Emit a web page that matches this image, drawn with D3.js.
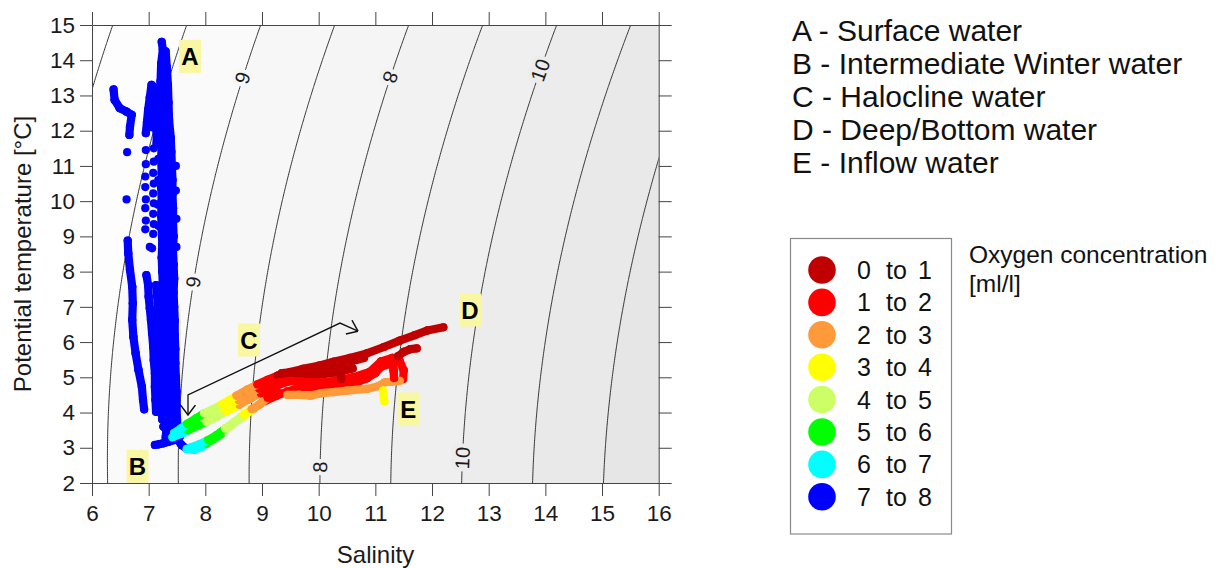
<!DOCTYPE html>
<html><head><meta charset="utf-8">
<script src="https://cdn.jsdelivr.net/npm/d3@7"></script>
<style>
body{margin:0;background:#fff;}
svg text{font-family:"Liberation Sans",Arial,Helvetica,sans-serif;}
</style></head><body>
<svg id="c" width="1216" height="568"></svg>
<script>
// ---------- ticks / categories ----------
const salinityTicks = [6,7,8,9,10,11,12,13,14,15,16];
const tempTicks = [2,3,4,5,6,7,8,9,10,11,12,13,14,15];
const sigmaLevels = [4,5,6,7,8,9,10,11,12,13];
const bandGrays = ["#ffffff","#fdfdfd","#fafafa","#f7f7f7","#f5f5f5","#f2f2f2","#efefef","#ececec","#e9e9e9","#e6e6e6","#e3e3e3"];
const contourLabelSigma = [6,8,10,6,8,10];
const contourLabelT = [13.5,13.52,13.72,7.7,2.45,2.71];
const contourLabelFlip = [1,1,0,1,0,0];
const oxygenFrom = [0,1,2,3,4,5,6,7];
const oxygenTo = [1,2,3,4,5,6,7,8];
const oxygenColors = ["#c00000","#ff0000","#ff9a3a","#ffff00","#ccff66","#00ff00","#00ffff","#0000ff"];
const waterMasses = ["A - Surface water","B - Intermediate Winter water","C - Halocline water","D - Deep/Bottom water","E - Inflow water"];
const massLetters = ["A","B","C","D","E"];
const massS = [7.729,6.803,8.770,12.670,11.581];
const massT = [14.109,2.474,6.059,6.910,4.100];
const arrowPath = [[7.694,3.93],[7.694,4.50],[10.376,6.54],[10.694,6.31]];

// ---------- data: [salinity, temperature, oxygen] ----------
const blueProfile1 = [[6.38,13.17],[6.40,12.87],[6.49,12.64],[6.61,12.54],[6.70,12.45],[6.67,12.11],[6.66,11.88]];
const blueProfile1Deep = [[6.63,8.88],[6.64,8.52],[6.67,8.05],[6.71,7.57],[6.72,7.10],[6.71,6.63],[6.73,6.15],[6.77,5.68],[6.82,5.21],[6.88,4.73],[6.90,4.36],[6.92,4.09]];
const blueWedgeL = [[7.05,13.3],[7.02,12.95],[6.99,12.59],[6.97,12.25],[6.95,11.93]];
const blueWedgeR = [[7.08,13.25],[7.11,12.85],[7.13,12.4],[7.14,12.0],[7.14,11.64]];
const blueWedgeM = [[7.06,13.1],[7.06,12.6],[7.06,12.1]];
const blueColumnA = [[7.23,14.52],[7.25,14.3],[7.22,13.9],[7.21,13.4],[7.21,12.9],[7.22,12.4],[7.22,12.0],[7.23,11.6],[7.22,11.2],[7.23,10.8],[7.22,10.4],[7.23,10.0],[7.22,9.6],[7.23,9.2],[7.24,8.8],[7.23,8.4],[7.24,8.0],[7.25,7.6],[7.24,7.2],[7.26,6.8],[7.26,6.4],[7.27,6.0],[7.28,5.6],[7.28,5.2],[7.29,4.8],[7.3,4.4],[7.3,4.0],[7.32,3.6],[7.3,3.3]];
const blueColumnC = [[7.27,14.1],[7.28,13.6],[7.29,13.0],[7.3,12.5],[7.31,12.0],[7.31,11.5],[7.32,11.0],[7.32,10.5],[7.33,10.0],[7.32,9.5],[7.33,9.0],[7.34,8.5],[7.34,8.0],[7.35,7.5],[7.35,7.0],[7.36,6.5],[7.36,6.0],[7.37,5.5],[7.38,5.0],[7.38,4.5],[7.4,4.0],[7.41,3.6]];
const blueColumnB = [[7.3,14.25],[7.32,13.8],[7.34,13.3],[7.35,12.8],[7.36,12.3],[7.39,11.8],[7.4,11.4],[7.41,11.0],[7.42,10.6],[7.42,10.2],[7.43,9.8],[7.43,9.4],[7.44,9.0],[7.43,8.6],[7.44,8.2],[7.45,7.8],[7.44,7.4],[7.45,7.0],[7.46,6.6],[7.46,6.2],[7.47,5.8],[7.47,5.4],[7.48,5.0],[7.49,4.6],[7.49,4.2],[7.5,3.8],[7.51,3.5],[7.47,3.3]];
const blueChain3 = [[6.96,7.9],[6.99,7.62],[7.0,7.29],[7.02,6.96],[7.04,6.63],[7.06,6.25],[7.08,5.87],[7.09,5.49],[7.11,5.11],[7.11,4.73],[7.12,4.36],[7.13,4.02]];
const blueChain4 = [[7.13,7.62],[7.16,7.1],[7.17,6.6],[7.16,6.2],[7.18,5.7],[7.19,5.2],[7.2,4.7],[7.22,4.2],[7.24,3.8]];
const blueBottom = [[7.11,3.08],[7.18,3.1],[7.26,3.13],[7.35,3.17],[7.45,3.22],[7.52,3.3]];
const blueBlob = [[7.28,4.0],[7.4,3.7],[7.5,3.45],[7.55,3.32]];
const blueBlob2 = [[7.26,3.6],[7.35,3.45],[7.45,3.38]];
const blueDots = [[6.62,11.39],[6.61,10.05],
  [6.95,11.45],[6.95,11.05],[6.94,10.7],[6.94,10.4],[6.95,10.05],[6.94,9.8],[6.95,9.45],[6.94,9.2],[7.02,8.7],
  [7.09,11.5],[7.09,11.12],[7.08,10.8],[7.09,10.5],[7.08,10.22],[7.09,9.94],[7.08,9.64],[7.09,9.35],[7.08,9.07],[7.06,8.66],
  [7.17,11.2],[7.17,10.6],[7.16,9.9],[7.17,9.3],[7.48,11.0],[7.48,10.3],[7.49,9.5],[7.49,8.7],[7.15,5.6],[7.16,4.9]];
const haloUpper = [[7.45,3.42,6.5],[7.57,3.55,6.5],[7.68,3.68,5.5],[7.84,3.84,5.5],[7.98,3.98,4.5],[8.14,4.1,4.5],[8.3,4.24,3.5],[8.44,4.37,3.5],[8.55,4.48,2.5],[8.74,4.65,2.5],[8.92,4.8,1.5],[9.1,4.93,1.5],[9.28,5.05,0.5],[9.5,5.15,0.5],[9.72,5.24,0.5],[10.0,5.33,0.5],[10.26,5.44,0.5],[10.55,5.55,0.5],[10.85,5.68,0.5],[11.15,5.86,0.5],[11.43,6.04,0.5],[11.7,6.2,0.5],[11.92,6.33,0.5],[12.2,6.42,0.5]];
const haloUpper2 = [[7.5,3.38,6.5],[7.64,3.55,5.5],[7.8,3.72,5.5],[7.95,3.86,4.5],[8.12,3.98,4.5],[8.3,4.12,3.5],[8.46,4.26,3.5],[8.58,4.36,2.5],[8.78,4.55,2.5],[8.95,4.68,1.5],[9.15,4.85,1.5],[9.35,4.98,0.5],[9.6,5.05,0.5],[9.9,5.2,0.5],[10.2,5.3,0.5],[10.5,5.42,0.5],[10.8,5.55,0.5]];
const haloMiddle = [[7.42,3.3,6.5],[7.58,3.4,6.5],[7.7,3.5,5.5],[7.88,3.64,5.5],[8.02,3.74,4.5],[8.2,3.88,4.5],[8.38,4.04,3.5],[8.52,4.15,3.5],[8.6,4.22,2.5],[8.8,4.4,2.5],[8.98,4.55,1.5],[9.2,4.72,1.5],[9.4,4.85,1.5],[9.6,4.92,1.5],[9.8,5.0,0.5],[10.1,5.1,0.5],[10.38,5.16,0.5],[10.6,5.25,0.5]];
const haloLower = [[7.5,3.25,7.5],[7.58,3.08,7.5],[7.67,2.97,6.5],[7.8,2.94,6.5],[7.93,3.02,6.5],[8.02,3.12,5.5],[8.15,3.25,5.5],[8.27,3.38,5.5],[8.33,3.48,4.5],[8.47,3.65,4.5],[8.6,3.82,4.5],[8.66,3.88,3.5],[8.78,4.03,3.5],[8.86,4.12,2.5],[8.98,4.26,2.5],[9.08,4.35,1.5],[9.25,4.47,1.5],[9.45,4.6,1.5],[9.65,4.7,1.5],[9.85,4.72,1.5],[10.05,4.72,1.5],[10.26,4.73,1.5],[10.5,4.8,1.5],[10.7,4.88,1.5],[10.85,4.97,1.5],[11.0,5.12,1.5],[11.1,5.3,1.5],[11.26,5.38,1.5],[11.43,5.47,1.5],[11.5,5.2,1.5],[11.49,4.95,1.5]];
const haloLower2 = [[7.75,3.02,6.5],[7.9,3.1,6.5],[8.05,3.22,5.5],[8.2,3.36,5.5],[8.35,3.55,4.5],[8.52,3.74,4.5],[8.68,3.95,3.5],[8.82,4.1,2.5],[8.95,4.22,2.5],[9.1,4.42,1.5],[9.3,4.55,1.5]];
const deepOrange = [[9.45,4.5,2.5],[9.65,4.5,2.5],[9.85,4.48,2.5],[10.05,4.55,2.5],[10.26,4.58,2.5],[10.5,4.62,2.5],[10.85,4.67,2.5],[11.05,4.75,2.5],[11.17,4.86,2.5],[11.3,4.88,2.5],[11.43,4.9,2.5]];
const deepRed = [[9.3,4.85,1.5],[9.5,4.9,1.5],[9.7,4.88,1.5],[10.0,4.85,1.5],[10.3,4.9,1.5],[10.6,5.0,1.5],[10.9,5.15,1.5],[11.1,5.45,1.5],[11.3,5.55,1.5],[11.32,5.2,1.5],[11.33,4.98,1.5]];
const deepDarkRed = [[9.35,5.12,0.5],[9.55,5.15,0.5],[9.75,5.12,0.5],[10.0,5.1,0.5],[10.2,5.12,0.5],[10.38,5.15,0.5],[10.4,4.95,0.5]];
const deepDarkTail = [[11.4,5.6,0.5],[11.5,5.72,0.5],[11.62,5.8,0.5],[11.73,5.82,0.5]];
const inflowYellow = [[11.14,4.62,3.5],[11.15,4.45,3.5],[11.16,4.32,3.5]];

// ---------- setup ----------
const svg = d3.select("#c");
const x = d3.scaleLinear().domain([6,16]).range([92,658.7]);
const y = d3.scaleLinear().domain([2,15]).range([483,25]);
const o2Color = d3.scaleThreshold().domain([1,2,3,4,5,6,7]).range(oxygenColors);

svg.append("defs").append("clipPath").attr("id","plotclip")
  .append("rect").attr("x",x(6)).attr("y",y(15)).attr("width",x(16)-x(6)).attr("height",y(2)-y(15));
svg.select("defs").append("marker").attr("id","ah").attr("markerUnits","userSpaceOnUse")
  .attr("viewBox","0 0 11 16").attr("refX",10.5).attr("refY",8).attr("markerWidth",11).attr("markerHeight",16)
  .attr("orient","auto-start-reverse")
  .append("path").attr("d","M0.5,0.5 L10.5,8 L0.5,15.5").attr("fill","none").attr("stroke","#111").attr("stroke-width",1.5);

// ---------- density background ----------
function sigmaT(S,T){
  const T2=T*T,T3=T2*T,T4=T3*T,T5=T4*T;
  const rw=999.842594+6.793952e-2*T-9.095290e-3*T2+1.001685e-4*T3-1.120083e-6*T4+6.536332e-9*T5;
  const A=8.24493e-1-4.0899e-3*T+7.6438e-5*T2-8.2467e-7*T3+5.3875e-9*T4;
  const B=-5.72466e-3+1.0227e-4*T-1.6546e-6*T2;
  return rw + A*S + B*Math.pow(S,1.5) + 4.8314e-4*S*S - 1000;
}
const S0=5.5,S1=16.5,T0=1.5,T1=15.5,nx=440,ny=280;
const dS=(S1-S0)/nx, dT=(T1-T0)/ny;
const grid = new Array(nx*ny);
for(let j=0;j<ny;j++) for(let i=0;i<nx;i++) grid[j*nx+i]=sigmaT(S0+(i+0.5)*dS, T0+(j+0.5)*dT);
const conts = d3.contours().size([nx,ny]).thresholds(sigmaLevels)(grid);
const proj = d3.geoTransform({point:function(c,r){this.stream.point(x(S0+c*dS), y(T0+r*dT));}});
const gpath = d3.geoPath(proj);
const bg = svg.append("g").attr("clip-path","url(#plotclip)");
bg.append("rect").attr("x",x(6)).attr("y",y(15)).attr("width",x(16)-x(6)).attr("height",y(2)-y(15)).attr("fill",bandGrays[0]);
conts.forEach((c,k)=>bg.append("path").attr("d",gpath(c)).attr("fill",bandGrays[k+1]));
conts.forEach(c=>bg.append("path").attr("d",gpath(c)).attr("fill","none").attr("stroke","#2a2a2a").attr("stroke-width",0.95));

function salAt(sig,T){ let lo=0,hi=45; for(let k=0;k<60;k++){const m=(lo+hi)/2; if(sigmaT(m,T)<sig) lo=m; else hi=m;} return (lo+hi)/2; }
contourLabelSigma.forEach((sig,i)=>{
  const T=contourLabelT[i], S=salAt(sig,T);
  const p1=[x(salAt(sig,T-0.3)),y(T-0.3)], p2=[x(salAt(sig,T+0.3)),y(T+0.3)];
  let ang=Math.atan2(p2[1]-p1[1],p2[0]-p1[0])*180/Math.PI;
  if(contourLabelFlip[i]) ang+=180;
  bg.append("text").attr("transform",`translate(${x(S)},${y(T)}) rotate(${ang})`)
    .attr("text-anchor","middle").attr("dy","0.35em").attr("font-size",20).attr("fill","#1a1a1a")
    .attr("stroke",bandGrays[sigmaLevels.indexOf(sig)+1]).attr("stroke-width",8).attr("paint-order","stroke")
    .text(sig);
});

// ---------- data marks ----------
const dataG = svg.append("g").attr("clip-path","url(#plotclip)");
const R = 4.1;
function drawTrace(pts, defO2){
  for(let i=0;i<pts.length-1;i++){
    const o = pts[i][2]!==undefined?pts[i][2]:defO2;
    dataG.append("line").attr("x1",x(pts[i][0])).attr("y1",y(pts[i][1]))
      .attr("x2",x(pts[i+1][0])).attr("y2",y(pts[i+1][1]))
      .attr("stroke",o2Color(o)).attr("stroke-width",2*R).attr("stroke-linecap","round");
  }
  pts.forEach(p=>dataG.append("circle").attr("cx",x(p[0])).attr("cy",y(p[1])).attr("r",R)
    .attr("fill",o2Color(p[2]!==undefined?p[2]:defO2)));
}
[blueProfile1,blueProfile1Deep,blueWedgeL,blueWedgeR,blueWedgeM,blueColumnA,blueColumnC,blueColumnB,blueChain3,blueChain4,blueBottom,blueBlob,blueBlob2].forEach(t=>drawTrace(t,7.5));
blueDots.forEach(p=>dataG.append("circle").attr("cx",x(p[0])).attr("cy",y(p[1])).attr("r",R).attr("fill",o2Color(7.5)));
[haloLower,haloLower2,haloMiddle,haloUpper2,haloUpper,deepOrange,deepRed,deepDarkRed,deepDarkTail,inflowYellow].forEach(t=>drawTrace(t,7.5));

// ---------- arrow ----------
svg.append("path").attr("d",d3.line().x(d=>x(d[0])).y(d=>y(d[1]))(arrowPath))
  .attr("fill","none").attr("stroke","#111").attr("stroke-width",1.3)
  .attr("marker-start","url(#ah)").attr("marker-end","url(#ah)");

// ---------- water mass letters ----------
massLetters.forEach((L,i)=>{
  const cx=x(massS[i]), cy=y(massT[i]);
  svg.append("rect").attr("x",cx-11).attr("y",cy-16.5).attr("width",22).attr("height",33).attr("fill","#faf7a2");
  svg.append("text").attr("x",cx).attr("y",cy+8.6).attr("text-anchor","middle").attr("font-size",24)
    .attr("font-weight","bold").attr("fill","#000").text(L);
});

// ---------- axes ----------
function styleAxis(g){
  g.selectAll("path,line").attr("stroke","#444").attr("stroke-width",1);
  g.selectAll("text").attr("font-size",22.5).attr("fill","#1a1a1a").attr("font-family",'"Liberation Sans",Arial,sans-serif');
}
svg.append("g").attr("transform",`translate(${x(6)},0)`).call(d3.axisLeft(y).tickValues(tempTicks).tickSize(12).tickPadding(5).tickSizeOuter(0)).call(styleAxis);
svg.append("g").attr("transform",`translate(0,${y(2)})`).call(d3.axisBottom(x).tickValues(salinityTicks).tickSize(13).tickPadding(9).tickSizeOuter(0)).call(styleAxis);
svg.append("g").attr("transform",`translate(0,${y(15)})`).call(d3.axisTop(x).tickValues(salinityTicks).tickSize(13).tickFormat("").tickSizeOuter(0)).call(styleAxis);
svg.append("g").attr("transform",`translate(${x(16)},0)`).call(d3.axisRight(y).tickValues(tempTicks).tickSize(13).tickFormat("").tickSizeOuter(0)).call(styleAxis);

svg.append("text").attr("x",375.5).attr("y",563).attr("text-anchor","middle").attr("font-size",24).attr("fill","#1a1a1a").text("Salinity");
svg.append("text").attr("transform","translate(31,254) rotate(-90)").attr("text-anchor","middle").attr("font-size",24).attr("fill","#1a1a1a").text("Potential temperature [°C]");

// ---------- water mass legend ----------
waterMasses.forEach((t,i)=>svg.append("text").attr("x",792).attr("y",40.5+i*33.1).attr("font-size",30).attr("fill","#111").text(t));

// ---------- oxygen legend ----------
svg.append("rect").attr("x",790.5).attr("y",238.5).attr("width",161).attr("height",295.5).attr("fill","#fff").attr("stroke","#8a8a8a").attr("stroke-width",1.2);
oxygenFrom.forEach((f,i)=>{
  const cy=270+i*32.4;
  svg.append("circle").attr("cx",822).attr("cy",cy).attr("r",13.8).attr("fill",oxygenColors[i]);
  svg.append("text").attr("x",857).attr("y",cy+9).attr("font-size",25).attr("fill","#111").text(f);
  svg.append("text").attr("x",886).attr("y",cy+9).attr("font-size",25).attr("fill","#111").text("to");
  svg.append("text").attr("x",918).attr("y",cy+9).attr("font-size",25).attr("fill","#111").text(oxygenTo[i]);
});
svg.append("text").attr("x",969).attr("y",263).attr("font-size",24.5).attr("fill","#111").text("Oxygen concentration");
svg.append("text").attr("x",969).attr("y",292).attr("font-size",24.5).attr("fill","#111").text("[ml/l]");
</script>
</body></html>
